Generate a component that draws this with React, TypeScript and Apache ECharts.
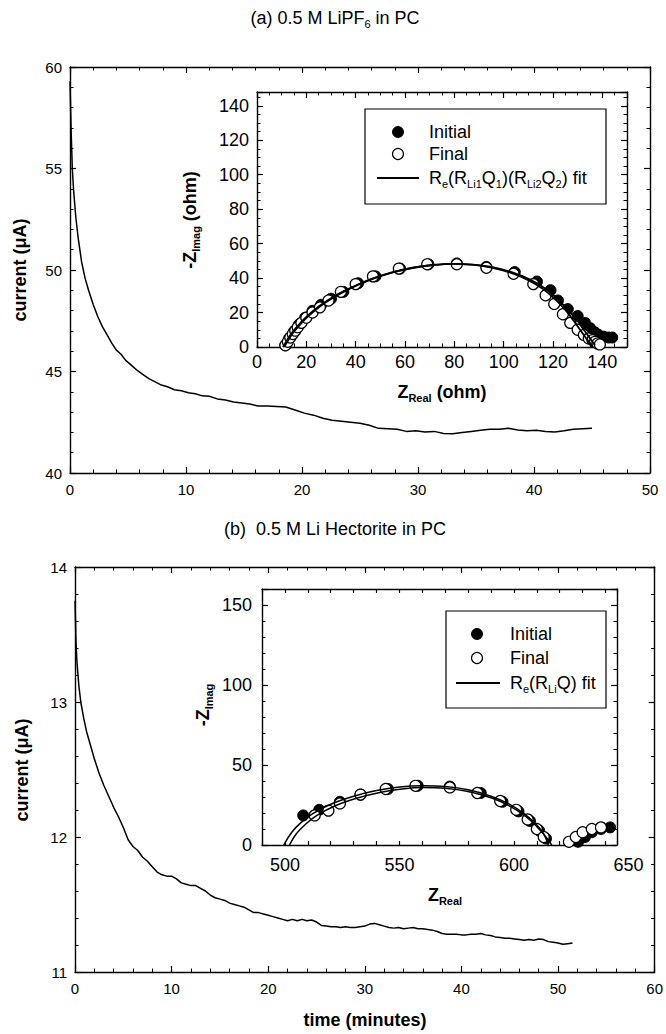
import React, { useEffect, useRef } from "react";
import * as echarts from "echarts";

const FONT = "'Liberation Sans', Arial, Helvetica, sans-serif";

// ---------- Panel (a): current vs time ----------
const timeA = [0, 0.05, 0.1, 0.2, 0.3, 0.5, 0.7, 1.0, 1.3, 1.6, 2.0, 2.4, 2.8, 3.2, 3.6, 4.0, 4.4, 4.8, 5.3, 5.8, 6.3, 6.8, 7.3, 7.8, 8.4, 9.0, 9.6, 10.2, 10.8, 11.4, 12.0, 12.7, 13.4, 14.1, 14.8, 15.5, 16.2, 17.0, 17.8, 18.6, 19.4, 20.2, 21.0, 21.8, 22.6, 23.4, 24.2, 25.0, 25.8, 26.6, 27.4, 28.2, 29.0, 29.8, 30.6, 31.4, 32.2, 33.0, 33.8, 34.6, 35.4, 36.2, 37.0, 37.8, 38.6, 39.4, 40.2, 41.0, 41.8, 42.6, 43.4, 44.2, 45.0];
const currentA = [59.3, 58.0, 56.8, 55.0, 54.0, 52.6, 51.6, 50.4, 49.6, 49.0, 48.3, 47.7, 47.2, 46.8, 46.4, 46.05, 45.85, 45.55, 45.3, 45.05, 44.85, 44.65, 44.5, 44.35, 44.25, 44.1, 44.05, 43.95, 43.9, 43.8, 43.78, 43.65, 43.6, 43.5, 43.45, 43.4, 43.3, 43.3, 43.28, 43.25, 43.1, 42.95, 42.85, 42.7, 42.6, 42.55, 42.5, 42.45, 42.35, 42.2, 42.18, 42.15, 42.05, 42.08, 42.02, 42.05, 41.95, 41.93, 42.0, 42.05, 42.1, 42.15, 42.15, 42.2, 42.12, 42.08, 42.1, 42.05, 42.02, 42.08, 42.15, 42.18, 42.2];

// ---------- Panel (a) inset: impedance ----------
const initAX = [11.5, 13, 15, 17, 19.5, 22.5, 26, 30, 35, 41, 48, 58, 69.5, 81, 93, 104.5, 113.5, 119, 122, 126, 130, 133, 135, 137, 138.5, 140.5, 142.5, 144];
const initAY = [1, 5, 9, 13, 17, 21, 24.5, 28, 32, 37, 41, 45.5, 48, 48.5, 46.5, 43.5, 38, 33, 27, 22, 18, 14, 11, 8.5, 7, 6, 5.5, 5.5];
const finalAX = [11.5, 12.5, 13.5, 14.5, 15.5, 16.5, 18, 20, 22.5, 25.5, 29, 34, 40, 47, 57.5, 69, 81, 93, 104, 112, 117, 120.5, 124, 127, 130, 132.5, 134.5, 136, 137, 138, 139];
const finalAY = [1, 3, 5.5, 7.5, 9.5, 11.5, 14, 17, 20, 23, 27, 32, 36.5, 41, 45.5, 48, 48, 46, 42.5, 36.5, 30, 25, 19, 14, 10, 7, 5, 4, 3, 2, 1.5];
const fitA1X = [10.5, 12, 14, 17, 20, 25, 30, 35, 40, 47, 55, 63, 71, 79, 87, 95, 103, 110, 116, 121, 125, 128.5, 131.5, 134, 136];
const fitA1Y = [0, 3.5, 8, 13, 17.5, 23.5, 28.3, 32.3, 35.7, 39.8, 43.4, 46, 47.6, 48.3, 47.8, 46.1, 43, 38.8, 33.6, 27.5, 21.5, 15, 9, 4, 0.5];
const fitA2X = [11, 12.5, 14.5, 17.5, 20.5, 25.5, 30.5, 35.5, 40.5, 47.5, 55.5, 63.5, 71.5, 79.5, 87.5, 95.5, 103.5, 110.5, 116.5, 121.5, 125.5, 129.5, 132.5, 135, 137];
const fitA2Y = [0, 3.5, 8, 13, 17.5, 23.5, 28.3, 32.3, 35.7, 39.8, 43.4, 46, 47.6, 48.3, 47.8, 46.3, 43.3, 39.3, 34.3, 28.3, 22.5, 16, 10, 5, 1];

// ---------- Panel (b): current vs time ----------
const timeB = [0, 0.1, 0.2, 0.4, 0.6, 0.9, 1.2, 1.6, 2.0, 2.5, 3.0, 3.5, 4.0, 4.5, 5.0, 5.5, 6.0, 6.5, 7.0, 7.5, 8.0, 8.5, 9.0, 9.5, 10.0, 10.5, 11.0, 11.5, 12.0, 12.5, 13.0, 13.5, 14.0, 14.5, 15.0, 15.5, 16, 16.5, 17, 17.5, 18, 18.5, 19, 19.5, 20, 20.5, 21, 21.5, 22, 22.5, 23, 23.5, 24, 24.5, 25, 25.5, 26, 26.5, 27, 27.5, 28, 28.5, 29, 29.5, 30, 30.5, 31, 31.5, 32, 32.5, 33, 33.5, 34, 34.5, 35, 35.5, 36, 36.5, 37, 37.5, 38, 38.5, 39, 39.5, 40, 40.5, 41, 41.5, 42, 42.5, 43, 43.5, 44, 44.5, 45, 45.5, 46, 46.5, 47, 47.5, 48, 48.5, 49, 49.5, 50, 50.5, 51, 51.5];
const currentB = [13.75, 13.45, 13.3, 13.12, 13.0, 12.88, 12.78, 12.68, 12.58, 12.47, 12.38, 12.3, 12.22, 12.15, 12.07, 11.98, 11.93, 11.9, 11.85, 11.82, 11.78, 11.74, 11.72, 11.71, 11.71, 11.69, 11.66, 11.65, 11.64, 11.64, 11.62, 11.6, 11.57, 11.55, 11.54, 11.53, 11.51, 11.5, 11.49, 11.48, 11.46, 11.44, 11.44, 11.43, 11.42, 11.41, 11.4, 11.39, 11.38, 11.39, 11.38, 11.39, 11.38, 11.385, 11.37, 11.345, 11.34, 11.335, 11.335, 11.33, 11.335, 11.33, 11.33, 11.335, 11.34, 11.355, 11.36, 11.35, 11.34, 11.33, 11.325, 11.33, 11.32, 11.325, 11.33, 11.32, 11.32, 11.315, 11.31, 11.3, 11.285, 11.28, 11.28, 11.28, 11.275, 11.275, 11.28, 11.28, 11.285, 11.275, 11.27, 11.26, 11.255, 11.25, 11.25, 11.245, 11.24, 11.235, 11.24, 11.235, 11.245, 11.24, 11.225, 11.22, 11.215, 11.205, 11.21, 11.215];

// ---------- Panel (b) inset: impedance ----------
const initBX = [508, 515, 524, 533, 545, 558, 572, 585.5, 595, 602, 607, 611, 614, 628, 631, 634, 638, 642];
const initBY = [18.5, 22, 27, 31.5, 35, 37, 36.5, 32.5, 27, 21, 15, 9, 4, 2, 5, 8, 10, 11];
const finalBX = [513, 519, 524, 533, 544, 557, 572, 584, 594, 601, 606, 610, 613, 624, 627, 630, 634, 638];
const finalBY = [18.5, 21.5, 26, 31.5, 35, 37, 36, 32.5, 27.5, 22, 16, 10, 5, 2, 5, 8, 10, 11];
const fitB1X = [499.5, 503, 507, 512, 520, 530, 540, 550, 560, 570, 580, 590, 598, 605, 610, 613, 615];
const fitB1Y = [0, 8, 14, 19.5, 25.5, 30.5, 34, 36.2, 37, 36.5, 34.5, 30.5, 25.5, 19, 12.5, 7, 0];
const fitB2X = [502, 505, 509, 514, 522, 532, 542, 552, 560, 570, 580, 590, 598, 605, 610, 614, 616.5];
const fitB2Y = [0, 7, 13, 18.5, 24.5, 29.5, 33, 35.2, 36, 35.5, 33.5, 29.5, 24.5, 18, 11.5, 5, 0];

const insetBExtraLabel = 650;

const zip = (xs: number[], ys: number[]) => xs.map((x, i) => [x, ys[i]]);

const LINE = { color: "#000", width: 1.4 };

function makeAxis(dim: "x" | "y", grid: number, min: number, max: number, interval: number, minorSplit: number, mirror: boolean, labelSize: number, margin: number, extra: any = {}) {
  const position = dim === "x" ? (mirror ? "top" : "bottom") : (mirror ? "right" : "left");
  return {
    type: "value",
    gridIndex: grid,
    min,
    max,
    interval,
    position,
    axisLine: { show: true, onZero: false, lineStyle: LINE },
    axisTick: { show: true, inside: true, length: 6, lineStyle: { color: "#000", width: 1.2 } },
    minorTick: { show: minorSplit > 0, splitNumber: minorSplit || 5, length: 3.5, lineStyle: { color: "#000", width: 1 } },
    splitLine: { show: false },
    minorSplitLine: { show: false },
    axisLabel: { show: !mirror, color: "#000", fontSize: labelSize, fontFamily: FONT, margin, ...(extra.axisLabel || {}) },
  };
}

export default function App() {
  const ref = useRef<HTMLDivElement>(null);
  useEffect(() => {
    if (!ref.current) return;
    const chart = echarts.init(ref.current, null, { renderer: "svg" });

    const sub = (size: number, bold = false) => {
      const w = bold ? "bold" : "normal";
      const ss = Math.round(size * 0.62);
      return {
        n: { fontSize: size, fontFamily: FONT, fontWeight: w, fill: "#000", lineHeight: size, padding: [0, 0, Math.round(size * 0.26), 0] },
        s: { fontSize: ss, fontFamily: FONT, fontWeight: w, fill: "#000", lineHeight: ss, verticalAlign: "bottom" },
      };
    };

    const graphics: any[] = [
      // titles
      { type: "text", x: 335, y: 20, style: { text: "{n|(a) 0.5 M LiPF}{s|6}{n| in PC}", rich: sub(18), align: "center", verticalAlign: "middle" } },
      { type: "text", x: 335, y: 531, style: { text: "{n|(b)  0.5 M Li Hectorite in PC}", rich: sub(18), align: "center", verticalAlign: "middle" } },
      // main y titles
      { type: "text", x: 20, y: 270, rotation: Math.PI / 2, style: { text: "current (\u03bcA)", font: `bold 18px ${FONT}`, fill: "#000", align: "center", verticalAlign: "middle" } },
      { type: "text", x: 22, y: 770, rotation: Math.PI / 2, style: { text: "current (\u03bcA)", font: `bold 18px ${FONT}`, fill: "#000", align: "center", verticalAlign: "middle" } },
      { type: "text", x: 365, y: 1020, style: { text: "time (minutes)", font: `bold 18px ${FONT}`, fill: "#000", align: "center", verticalAlign: "middle" } },
      // inset a titles
      { type: "text", x: 192, y: 220, rotation: Math.PI / 2, style: { text: "{n|-Z}{s|Imag}{n| (ohm)}", rich: sub(18, true), align: "center", verticalAlign: "middle" } },
      { type: "text", x: 442, y: 394, style: { text: "{n|Z}{s|Real}{n| (ohm)}", rich: sub(18, true), align: "center", verticalAlign: "middle" } },
      // inset b titles
      { type: "text", x: 205, y: 705, rotation: Math.PI / 2, style: { text: "{n|-Z}{s|Imag}", rich: sub(18, true), align: "center", verticalAlign: "middle" } },
      { type: "text", x: 445, y: 897, style: { text: "{n|Z}{s|Real}", rich: sub(18, true), align: "center", verticalAlign: "middle" } },
      // legend a
      { type: "rect", shape: { x: 365, y: 109, width: 241, height: 95 }, style: { fill: "#fff", stroke: "#000", lineWidth: 1.2 }, z: 10 },
      { type: "circle", shape: { cx: 398, cy: 132, r: 5.5 }, style: { fill: "#000", stroke: "#000" }, z: 11 },
      { type: "circle", shape: { cx: 398, cy: 154, r: 5.5 }, style: { fill: "#fff", stroke: "#000", lineWidth: 1.2 }, z: 11 },
      { type: "line", shape: { x1: 377, y1: 178, x2: 419, y2: 178 }, style: { stroke: "#000", lineWidth: 1.8 }, z: 11 },
      { type: "text", x: 429, y: 132, z: 11, style: { text: "Initial", font: `18px ${FONT}`, fill: "#000", verticalAlign: "middle" } },
      { type: "text", x: 429, y: 154, z: 11, style: { text: "Final", font: `18px ${FONT}`, fill: "#000", verticalAlign: "middle" } },
      { type: "text", x: 429, y: 180, z: 11, style: { text: "{n|R}{s|e}{n|(R}{s|Li1}{n|Q}{s|1}{n|)(R}{s|Li2}{n|Q}{s|2}{n|) fit}", rich: sub(18), verticalAlign: "middle" } },
      // legend b
      { type: "rect", shape: { x: 446, y: 611, width: 160, height: 97 }, style: { fill: "#fff", stroke: "#000", lineWidth: 1.2 }, z: 10 },
      { type: "circle", shape: { cx: 477, cy: 634, r: 5.5 }, style: { fill: "#000", stroke: "#000" }, z: 11 },
      { type: "circle", shape: { cx: 477, cy: 658, r: 5.5 }, style: { fill: "#fff", stroke: "#000", lineWidth: 1.2 }, z: 11 },
      { type: "line", shape: { x1: 456, y1: 683, x2: 500, y2: 683 }, style: { stroke: "#000", lineWidth: 1.8 }, z: 11 },
      { type: "text", x: 510, y: 634, z: 11, style: { text: "Initial", font: `18px ${FONT}`, fill: "#000", verticalAlign: "middle" } },
      { type: "text", x: 510, y: 658, z: 11, style: { text: "Final", font: `18px ${FONT}`, fill: "#000", verticalAlign: "middle" } },
      { type: "text", x: 510, y: 685, z: 11, style: { text: "{n|R}{s|e}{n|(R}{s|Li}{n|Q) fit}", rich: sub(18), verticalAlign: "middle" } },
    ];

    const grids = [
      { left: 70, top: 67, width: 580, height: 406 },
      { left: 257, top: 92, width: 370, height: 255 },
      { left: 75, top: 567, width: 581, height: 405 },
      { left: 262, top: 589, width: 355, height: 256 },
    ].map((g) => ({ ...g, show: false, containLabel: false }));

    const xAxis = [
      makeAxis("x", 0, 0, 50, 10, 5, false, 15, 9),
      makeAxis("x", 0, 0, 50, 10, 5, true, 15, 9),
      makeAxis("x", 1, 0, 150, 20, 4, false, 18, 6),
      makeAxis("x", 1, 0, 150, 20, 4, true, 18, 6),
      makeAxis("x", 2, 0, 60, 10, 5, false, 15, 9),
      makeAxis("x", 2, 0, 60, 10, 5, true, 15, 9),
      makeAxis("x", 3, 490, 645, 10, 0, false, 18, 11, { axisLabel: { formatter: (v: number) => (v % 50 === 0 ? String(v) : "") } }),
      makeAxis("x", 3, 490, 645, 10, 0, true, 18, 11),
    ];
    xAxis[6].axisTick.length = 4;
    xAxis[7].axisTick.length = 4;
    const yAxis = [
      makeAxis("y", 0, 40, 60, 5, 5, false, 15, 8),
      makeAxis("y", 0, 40, 60, 5, 5, true, 15, 8),
      makeAxis("y", 1, 0, 148, 20, 4, false, 18, 8),
      makeAxis("y", 1, 0, 148, 20, 4, true, 18, 8),
      makeAxis("y", 2, 11, 14, 1, 5, false, 15, 8),
      makeAxis("y", 2, 11, 14, 1, 5, true, 15, 8),
      makeAxis("y", 3, 0, 160, 50, 5, false, 18, 10),
      makeAxis("y", 3, 0, 160, 50, 5, true, 18, 10),
    ];

    const lineS = (xi: number, data: number[][], w: number, z: number) => ({
      type: "line", xAxisIndex: xi, yAxisIndex: xi, data, symbol: "none", smooth: false,
      lineStyle: { color: "#000", width: w, opacity: 1 }, z, silent: true,
    });
    const smoothS = (xi: number, data: number[][], w: number, z: number) => ({ ...lineS(xi, data, w, z), smooth: 0.4 });
    const scat = (xi: number, data: number[][], filled: boolean, z: number) => ({
      type: "scatter", xAxisIndex: xi, yAxisIndex: xi, data, symbol: "circle", symbolSize: 11, z,
      itemStyle: filled
        ? { color: "#000", borderColor: "#000", borderWidth: 1, opacity: 1 }
        : { color: "#fff", borderColor: "#000", borderWidth: 1.2, opacity: 1 },
      silent: true,
    });

    const series = [
      lineS(0, zip(timeA, currentA), 1.5, 2),
      scat(2, zip(initAX, initAY), true, 3),
      scat(2, zip(finalAX, finalAY), false, 4),
      smoothS(2, zip(fitA1X, fitA1Y), 1.8, 5),
      smoothS(2, zip(fitA2X, fitA2Y), 1.8, 5),
      lineS(4, zip(timeB, currentB), 1.5, 2),
      scat(6, zip(initBX, initBY), true, 3),
      scat(6, zip(finalBX, finalBY), false, 4),
      smoothS(6, zip(fitB1X, fitB1Y), 1.5, 5),
      smoothS(6, zip(fitB2X, fitB2Y), 1.5, 5),
    ];

    const option: any = {
      animation: false,
      backgroundColor: "#fff",
      grid: grids,
      xAxis,
      yAxis,
      series,
      graphic: graphics,
    };
    chart.setOption(option);

    const px = chart.convertToPixel({ xAxisIndex: 6 }, insetBExtraLabel) as number;
    const py = chart.convertToPixel({ yAxisIndex: 6 }, 0) as number;
    option.graphic = [
      ...graphics,
      { type: "text", x: px, y: py + 11, style: { text: String(insetBExtraLabel), font: `18px ${FONT}`, fill: "#000", align: "center", verticalAlign: "top" } },
    ];
    chart.setOption(option, true);

    return () => chart.dispose();
  }, []);

  return <div ref={ref} style={{ position: "absolute", left: 0, top: 0, width: 666, height: 1034, background: "#fff" }} />;
}
